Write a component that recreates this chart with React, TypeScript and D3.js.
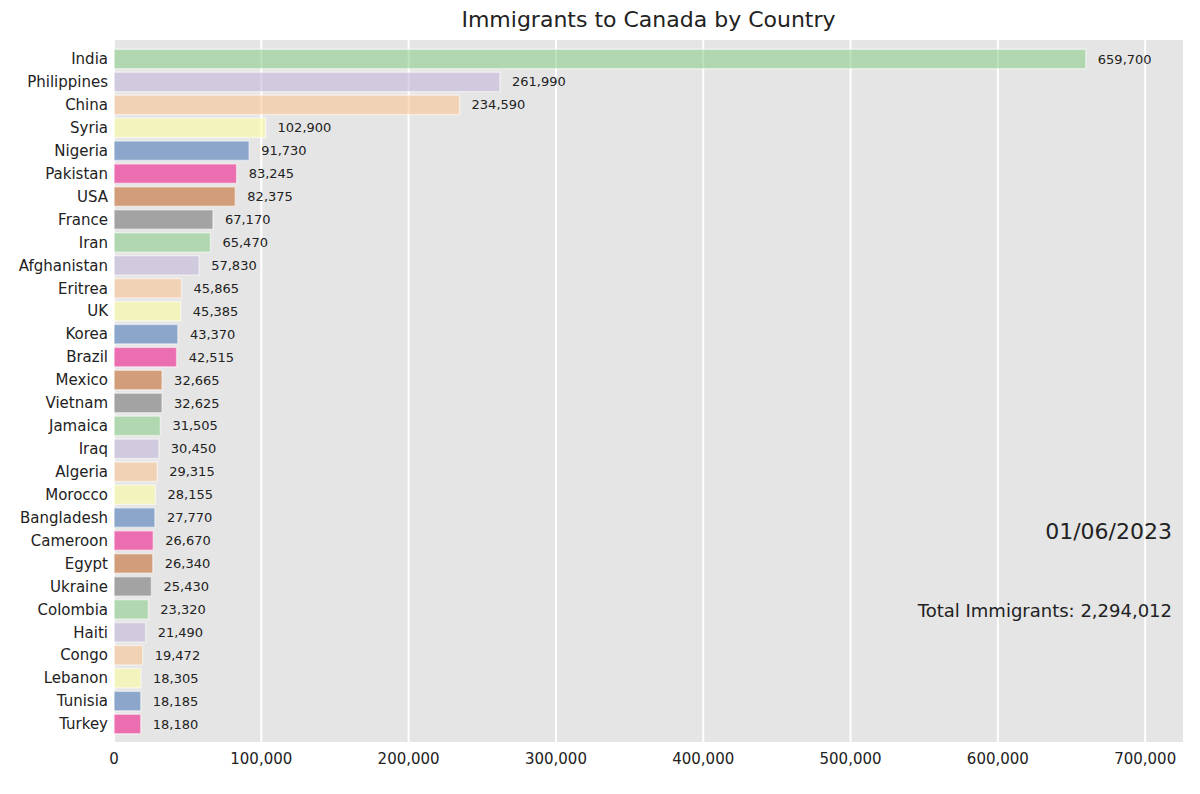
import { useMemo } from "react";
import * as d3 from "d3";

const COUNTRIES = [
  "India", "Philippines", "China", "Syria", "Nigeria", "Pakistan", "USA", "France",
  "Iran", "Afghanistan", "Eritrea", "UK", "Korea", "Brazil", "Mexico", "Vietnam",
  "Jamaica", "Iraq", "Algeria", "Morocco", "Bangladesh", "Cameroon", "Egypt",
  "Ukraine", "Colombia", "Haiti", "Congo", "Lebanon", "Tunisia", "Turkey",
];

const IMMIGRANTS = [
  659700, 261990, 234590, 102900, 91730, 83245, 82375, 67170,
  65470, 57830, 45865, 45385, 43370, 42515, 32665, 32625,
  31505, 30450, 29315, 28155, 27770, 26670, 26340,
  25430, 23320, 21490, 19472, 18305, 18185, 18180,
];

const X_TICKS = [0, 100000, 200000, 300000, 400000, 500000, 600000, 700000];

const DATE_LABEL = "01/06/2023";
const TOTAL_LABEL = "Total Immigrants: 2,294,012";

// matplotlib "Accent"
const ACCENT = ["#7fc97f", "#beaed4", "#fdc086", "#ffff99", "#386cb0", "#f0027f", "#bf5b17", "#666666"];

const W = 1200;
const H = 794;
const m = { top: 40, right: 17, bottom: 52, left: 114 };
const FONT = "'DejaVu Sans', Verdana, sans-serif";

export default function App() {
  const w = W - m.left - m.right;
  const h = H - m.top - m.bottom;

  const x = useMemo(
    () => d3.scaleLinear().domain([0, d3.max(IMMIGRANTS)! * 1.1]).range([0, w]),
    [w],
  );
  const y = useMemo(
    () => d3.scaleBand<string>().domain(COUNTRIES).range([1, h]).paddingInner(0.15).paddingOuter(0.36),
    [h],
  );
  const fmt = d3.format(",");

  return (
    <div style={{ position: "absolute", left: 0, top: 0 }}>
      <svg width={W} height={H} style={{ display: "block", background: "#fff" }} fontFamily={FONT}>
        <text x={m.left + w / 2} y={27} textAnchor="middle" fontSize={22} fill="#222">
          Immigrants to Canada by Country
        </text>
        <g transform={`translate(${m.left},${m.top})`}>
          <rect width={w} height={h} fill="#e5e5e5" />
          {/* grid */}
          {X_TICKS.map((t) => (
            <line key={t} x1={x(t)} x2={x(t)} y1={0} y2={h} stroke="#fff" strokeWidth={2} />
          ))}
          {/* bars */}
          {COUNTRIES.map((c, i) => (
            <g key={c}>
              <rect
                x={x(0)}
                y={y(c)}
                width={x(IMMIGRANTS[i]) - x(0)}
                height={y.bandwidth()}
                fill={ACCENT[i % ACCENT.length]}
                fillOpacity={0.52}
                stroke="#fff"
                strokeOpacity={0.5}
                strokeWidth={1.5}
              />
              <text
                x={x(IMMIGRANTS[i]) + 12}
                y={y(c)! + y.bandwidth() / 2}
                dy="0.35em"
                fontSize={13}
                fill="#222"
              >
                {fmt(IMMIGRANTS[i])}
              </text>
              <text
                x={-6}
                y={y(c)! + y.bandwidth() / 2}
                dy="0.35em"
                textAnchor="end"
                fontSize={15}
                fill="#222"
              >
                {c}
              </text>
            </g>
          ))}
          {/* x axis labels */}
          {X_TICKS.map((t) => (
            <text key={t} x={x(t)} y={h + 11} dy="0.71em" textAnchor="middle" fontSize={15} fill="#222">
              {fmt(t)}
            </text>
          ))}
          <text x={w - 11} y={499} textAnchor="end" fontSize={22} fill="#222">
            {DATE_LABEL}
          </text>
          <text x={w - 11} y={577} textAnchor="end" fontSize={18} fill="#222">
            {TOTAL_LABEL}
          </text>
        </g>
      </svg>
    </div>
  );
}
